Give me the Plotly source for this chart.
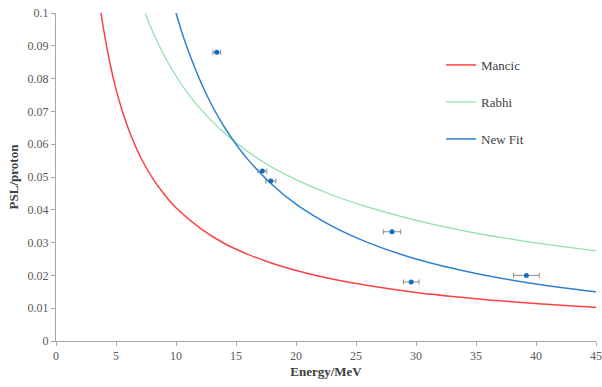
import plotly.graph_objects as go

# ---- data ----
mancic_e = [3.75, 4, 4.5, 5, 5.5, 6, 7, 8, 9, 10, 12, 14, 16, 18, 20, 23, 26, 30, 35, 40, 45]
mancic_psl = [0.1, 0.0943, 0.0846, 0.0768, 0.0704, 0.0650, 0.0564, 0.0499, 0.0448, 0.0406,
              0.0344, 0.0298, 0.0264, 0.0237, 0.0215, 0.0189, 0.0169, 0.0148, 0.0129, 0.0114, 0.0102]

rabhi_e = [7.42, 8, 9, 10, 11, 12, 14, 16, 18, 20, 23, 26, 30, 35, 40, 45]
rabhi_psl = [0.1, 0.0948, 0.0871, 0.0808, 0.0754, 0.0709, 0.0635, 0.0577, 0.0530, 0.0492,
             0.0445, 0.0408, 0.0368, 0.0329, 0.0299, 0.0275]

newfit_e = [10, 10.5, 11, 12, 13, 14, 15, 16, 18, 20, 23, 26, 30, 35, 40, 45]
newfit_psl = [0.1, 0.0940, 0.0887, 0.0795, 0.0718, 0.0654, 0.0600, 0.0553, 0.0477, 0.0417,
              0.0350, 0.0300, 0.0250, 0.0206, 0.0174, 0.0150]

data_e = [13.4, 17.2, 17.9, 28.0, 29.6, 39.2]
data_psl = [0.0880, 0.0518, 0.0488, 0.0333, 0.0180, 0.0200]
data_e_err = [0.32, 0.37, 0.42, 0.72, 0.65, 1.07]

x_ticks = [0, 5, 10, 15, 20, 25, 30, 35, 40, 45]
y_ticks = [0, 0.01, 0.02, 0.03, 0.04, 0.05, 0.06, 0.07, 0.08, 0.09, 0.1]
y_tick_text = ["0", "0.01", "0.02", "0.03", "0.04", "0.05", "0.06", "0.07", "0.08", "0.09", "0.1"]

FONT = "Liberation Serif, Times New Roman, serif"

fig = go.Figure()
fig.add_trace(go.Scatter(x=mancic_e, y=mancic_psl, mode="lines", name="Mancic",
                         line=dict(color="#ff4040", width=1.5, shape="spline"), legend="legend"))
fig.add_trace(go.Scatter(x=rabhi_e, y=rabhi_psl, mode="lines", name="Rabhi",
                         line=dict(color="#8fe0aa", width=1.2, shape="spline"), legend="legend2"))
fig.add_trace(go.Scatter(x=newfit_e, y=newfit_psl, mode="lines", name="New Fit",
                         line=dict(color="#2f80cf", width=1.5, shape="spline"), legend="legend3"))
fig.add_trace(go.Scatter(x=data_e, y=data_psl, mode="markers", name="Data", showlegend=False,
                         marker=dict(color="#0a6fc2", size=5),
                         error_x=dict(type="data", array=data_e_err, color="#8c8c8c",
                                      thickness=1, width=2.5)))

axis_common = dict(showline=True, linecolor="#a6a6a6", linewidth=1, ticks="outside",
                   tickcolor="#a6a6a6", ticklen=4, showgrid=False, zeroline=False,
                   automargin=False,
                   tickfont=dict(family=FONT, size=12, color="#595959"))

fig.update_xaxes(range=[0, 45], tickvals=x_ticks, title=dict(text="<b>Energy/MeV</b>",
                 font=dict(family=FONT, size=13, color="#404040"), standoff=4), **axis_common)
fig.update_yaxes(range=[0, 0.1], tickvals=y_ticks, ticktext=y_tick_text,
                 title=dict(text="<b>PSL/proton</b>", font=dict(family=FONT, size=13, color="#404040"),
                            standoff=6), **axis_common)

leg = dict(font=dict(family=FONT, size=13, color="#404040"), bgcolor="rgba(0,0,0,0)",
           xanchor="left", yanchor="middle", itemwidth=30)
fig.update_layout(
    width=602, height=387,
    margin=dict(l=56, r=6, t=13, b=46),
    font=dict(family=FONT),
    paper_bgcolor="white", plot_bgcolor="white",
    legend=dict(x=0.713, y=0.8415, **leg),
    legend2=dict(x=0.713, y=0.7287, **leg),
    legend3=dict(x=0.713, y=0.6159, **leg),
)

fig.write_html("out.html")
